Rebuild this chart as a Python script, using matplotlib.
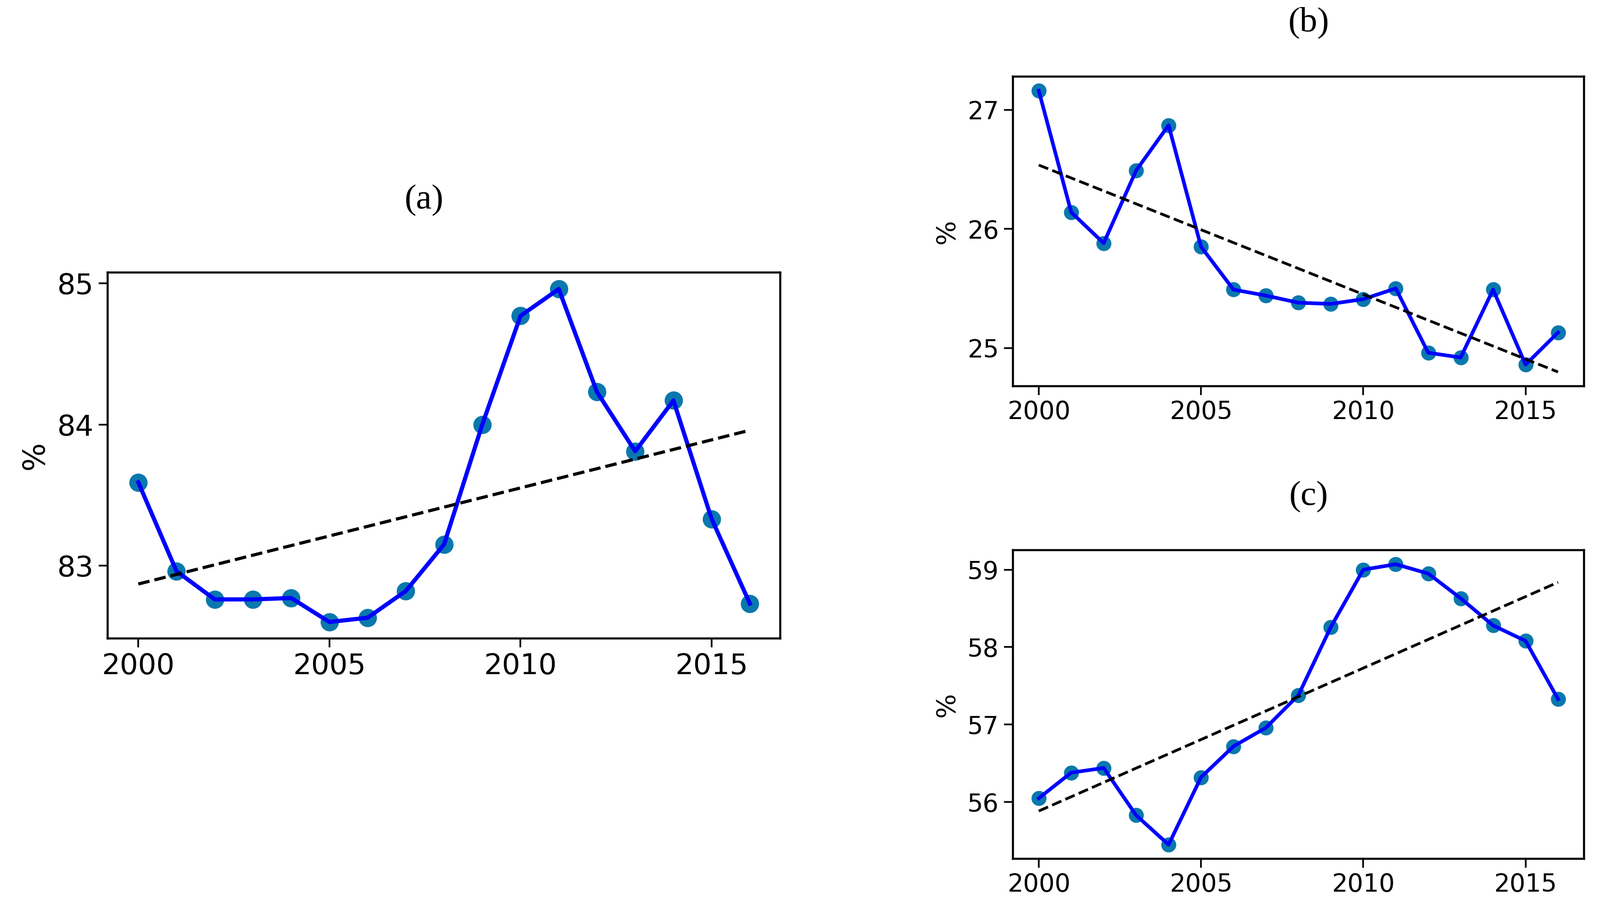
import matplotlib
matplotlib.use("Agg")
import matplotlib.pyplot as plt
import numpy as np

years = np.arange(2000, 2017)

# panel (a)
val_a = [83.59, 82.96, 82.76, 82.76, 82.77, 82.60, 82.63, 82.82, 83.15,
         84.00, 84.77, 84.96, 84.23, 83.81, 84.17, 83.33, 82.73]
# panel (b)
val_b = [27.16, 26.14, 25.88, 26.49, 26.87, 25.85, 25.49, 25.44, 25.38,
         25.37, 25.41, 25.50, 24.96, 24.92, 25.49, 24.86, 25.13]
# panel (c)
val_c = [56.05, 56.38, 56.44, 55.83, 55.45, 56.32, 56.72, 56.96, 57.38,
         58.26, 59.00, 59.07, 58.95, 58.63, 58.28, 58.08, 57.33]

xticks = [2000, 2005, 2010, 2015]
yticks_a = [83, 84, 85]
yticks_b = [25, 26, 27]
yticks_c = [56, 57, 58, 59]


def panel(ax, vals, yt, fs, ms, lw):
    vals = np.array(vals)
    ax.plot(years, vals, 'o', color='#0a78ad', markersize=ms, zorder=2)
    ax.plot(years, vals, '-', color='#0000ff', linewidth=lw, zorder=3)
    c = np.polyfit(years, vals, 1)  # linear trend
    ax.plot(years, np.polyval(c, years), '--', color='black', linewidth=lw * 0.75, zorder=4)
    ax.set_xticks(xticks)
    ax.set_yticks(yt)
    ax.tick_params(labelsize=fs, length=7, width=1.3)
    ax.set_ylabel('%', fontsize=fs + 1, labelpad=6)
    for s in ax.spines.values():
        s.set_linewidth(1.6)


fig = plt.figure(figsize=(17.02, 9.6), dpi=200)

ax1 = fig.add_axes([0.0673, 0.292, 0.4205, 0.406])
ax2 = fig.add_axes([0.633, 0.572, 0.357, 0.343])
ax3 = fig.add_axes([0.633, 0.048, 0.357, 0.342])

panel(ax1, val_a, yticks_a, 22, 13, 3.2)
panel(ax2, val_b, yticks_b, 19, 10.5, 2.8)
panel(ax3, val_c, yticks_c, 19, 10.5, 2.8)

fig.text(0.265, 0.778, '(a)', fontsize=27, family='Liberation Serif', ha='center', va='center')
fig.text(0.818, 0.975, '(b)', fontsize=27, family='Liberation Serif', ha='center', va='center')
fig.text(0.818, 0.449, '(c)', fontsize=27, family='Liberation Serif', ha='center', va='center')

fig.savefig('out.png', dpi=200)
